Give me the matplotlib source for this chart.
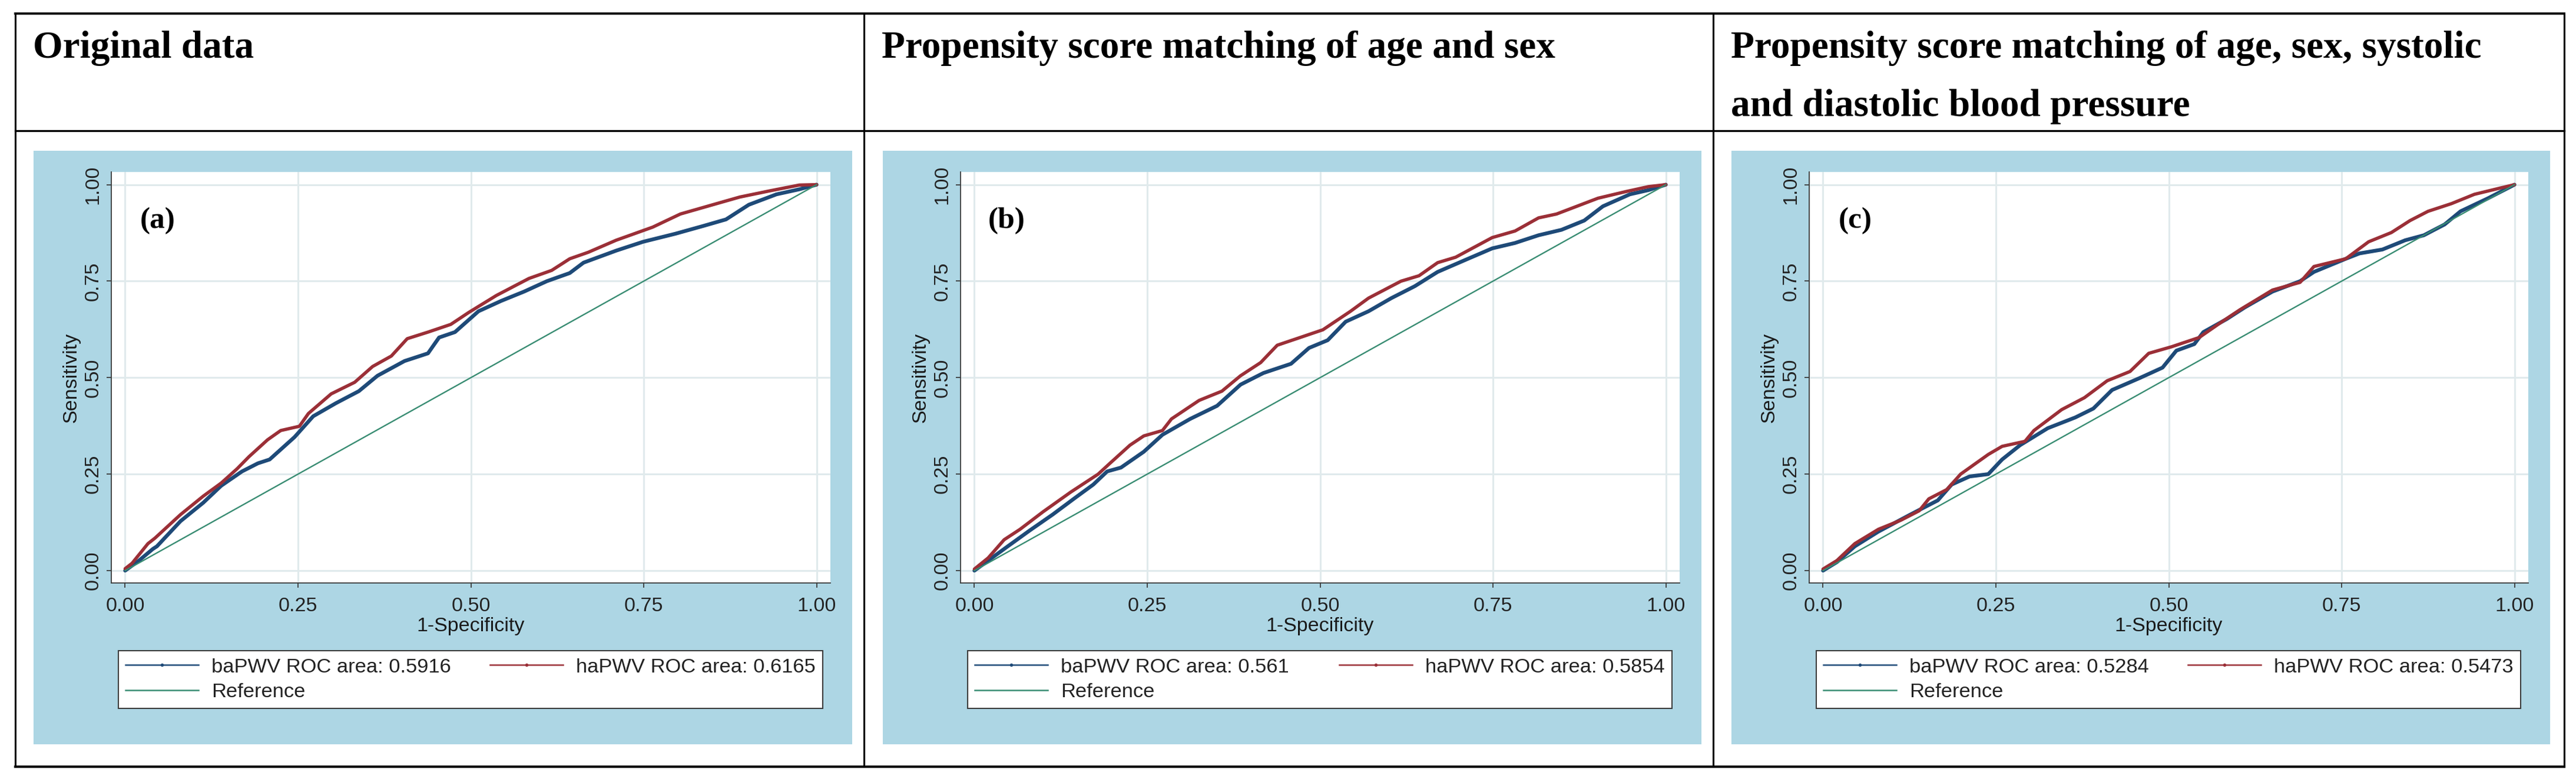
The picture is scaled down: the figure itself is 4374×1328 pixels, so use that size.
import numpy as np
import matplotlib.pyplot as plt
from matplotlib.lines import Line2D
from matplotlib.patches import Rectangle

W, H = 4374, 1328
DPI = 100

titles = ["Original data",
          "Propensity score matching of age and sex",
          "Propensity score matching of age, sex, systolic\nand diastolic blood pressure"]
tags = ["(a)", "(b)", "(c)"]
ba_auc = ["0.5916", "0.561", "0.5284"]
ha_auc = ["0.6165", "0.5854", "0.5473"]
ticks = [0.0, 0.25, 0.5, 0.75, 1.0]
tick_labels = ["0.00", "0.25", "0.50", "0.75", "1.00"]

# (a) original data
ba_fpr_a = [0, 0.02, 0.04, 0.046, 0.08, 0.113, 0.139, 0.169, 0.192, 0.209, 0.245, 0.272, 0.305, 0.338,
            0.365, 0.404, 0.438, 0.454, 0.477, 0.511, 0.544, 0.577, 0.61, 0.643, 0.663, 0.71, 0.749,
            0.796, 0.836, 0.869, 0.902, 0.942, 0.975, 1]
ba_tpr_a = [0, 0.026, 0.056, 0.063, 0.128, 0.176, 0.22, 0.257, 0.278, 0.288, 0.346, 0.40, 0.434, 0.465,
            0.505, 0.543, 0.563, 0.604, 0.618, 0.672, 0.699, 0.723, 0.75, 0.771, 0.798, 0.829, 0.852,
            0.873, 0.893, 0.91, 0.948, 0.975, 0.988, 1]
ha_fpr_a = [0, 0.01, 0.033, 0.043, 0.08, 0.113, 0.139, 0.162, 0.179, 0.206, 0.225, 0.252, 0.265, 0.298,
            0.332, 0.358, 0.385, 0.408, 0.438, 0.471, 0.497, 0.537, 0.584, 0.617, 0.643, 0.67, 0.71,
            0.763, 0.803, 0.842, 0.889, 0.935, 0.975, 1]
ha_tpr_a = [0.005, 0.019, 0.07, 0.084, 0.145, 0.193, 0.227, 0.264, 0.295, 0.339, 0.363, 0.374, 0.407, 0.458,
            0.488, 0.529, 0.556, 0.601, 0.618, 0.638, 0.669, 0.713, 0.757, 0.778, 0.808, 0.825, 0.856,
            0.890, 0.924, 0.944, 0.968, 0.985, 0.999, 1]

# (b) matched on age and sex
ba_fpr_b = [0, 0.02, 0.046, 0.08, 0.113, 0.146, 0.172, 0.192, 0.212, 0.245, 0.272, 0.312, 0.351, 0.385,
            0.418, 0.458, 0.484, 0.511, 0.537, 0.57, 0.603, 0.637, 0.67, 0.71, 0.749, 0.782, 0.816,
            0.849, 0.882, 0.909, 0.948, 0.975, 1]
ba_tpr_b = [0, 0.026, 0.06, 0.104, 0.145, 0.189, 0.223, 0.257, 0.267, 0.308, 0.352, 0.393, 0.427, 0.482,
            0.512, 0.536, 0.577, 0.597, 0.645, 0.672, 0.706, 0.737, 0.774, 0.805, 0.835, 0.849, 0.869,
            0.883, 0.907, 0.944, 0.975, 0.986, 1]
ha_fpr_b = [0, 0.02, 0.043, 0.066, 0.099, 0.139, 0.179, 0.196, 0.225, 0.245, 0.272, 0.285, 0.325, 0.358,
            0.385, 0.414, 0.438, 0.471, 0.504, 0.544, 0.57, 0.617, 0.643, 0.67, 0.696, 0.749, 0.782,
            0.816, 0.842, 0.902, 0.942, 0.975, 1]
ha_tpr_b = [0.004, 0.033, 0.08, 0.107, 0.152, 0.203, 0.25, 0.278, 0.325, 0.349, 0.363, 0.393, 0.441, 0.465,
            0.505, 0.539, 0.584, 0.604, 0.624, 0.672, 0.706, 0.75, 0.764, 0.798, 0.812, 0.863, 0.88,
            0.914, 0.924, 0.965, 0.982, 0.995, 1]

# (c) matched on age, sex, SBP and DBP
ba_fpr_c = [0, 0.02, 0.046, 0.08, 0.126, 0.166, 0.186, 0.212, 0.239, 0.259, 0.285, 0.325, 0.365, 0.391,
            0.418, 0.458, 0.491, 0.511, 0.537, 0.55, 0.584, 0.61, 0.65, 0.69, 0.71, 0.756, 0.776,
            0.809, 0.842, 0.869, 0.899, 0.922, 0.962, 1]
ba_tpr_c = [0, 0.022, 0.063, 0.101, 0.145, 0.182, 0.223, 0.244, 0.25, 0.288, 0.325, 0.369, 0.397, 0.42,
            0.468, 0.499, 0.526, 0.57, 0.587, 0.618, 0.652, 0.682, 0.723, 0.75, 0.774, 0.808, 0.822,
            0.832, 0.856, 0.869, 0.897, 0.931, 0.965, 1]
ha_fpr_c = [0, 0.02, 0.046, 0.08, 0.113, 0.139, 0.153, 0.179, 0.199, 0.239, 0.259, 0.292, 0.305, 0.345,
            0.378, 0.411, 0.444, 0.471, 0.504, 0.544, 0.577, 0.603, 0.65, 0.69, 0.71, 0.756, 0.789,
            0.822, 0.849, 0.875, 0.909, 0.942, 0.981, 1]
ha_tpr_c = [0.004, 0.026, 0.07, 0.107, 0.131, 0.155, 0.186, 0.21, 0.25, 0.301, 0.322, 0.335, 0.363, 0.417,
            0.448, 0.492, 0.516, 0.563, 0.58, 0.604, 0.645, 0.676, 0.727, 0.747, 0.788, 0.808, 0.852,
            0.876, 0.907, 0.931, 0.951, 0.975, 0.992, 1]

ba_fpr = [ba_fpr_a, ba_fpr_b, ba_fpr_c]
ba_tpr = [ba_tpr_a, ba_tpr_b, ba_tpr_c]
ha_fpr = [ha_fpr_a, ha_fpr_b, ha_fpr_c]
ha_tpr = [ha_tpr_a, ha_tpr_b, ha_tpr_c]

navy = '#1e4a78'
maroon = '#9b2f37'
green = '#388c72'
bg_blue = '#add6e4'
grid_c = '#e0eaec'
sans = 'Liberation Sans'
serif = 'Liberation Serif'


def fx(px):
    return px / W


def fy(py):
    return 1 - py / H


fig = plt.figure(figsize=(W / DPI, H / DPI), dpi=DPI)
fig.patch.set_facecolor('white')

# table grid
col_x = [26, 1467, 2909, 4354]
for y, lw in [(23, 2.8), (222, 2.4), (1302, 3.0)]:
    fig.add_artist(Line2D([fx(col_x[0]), fx(col_x[-1])], [fy(y), fy(y)], color='black', lw=lw))
for x in col_x:
    fig.add_artist(Line2D([fx(x), fx(x)], [fy(23), fy(1302)], color='black', lw=2.2))

box_left = [57, 1499, 2940]
for i in range(3):
    # header text
    for k, line in enumerate(titles[i].split("\n")):
        fig.text(fx(col_x[i] + 30), fy(98 + 99 * k), line, fontsize=47, fontweight='bold',
                 family=serif, ha='left', va='baseline')

    bl = box_left[i]
    fig.add_artist(Rectangle((fx(bl), fy(1264)), 1390 / W, (1264 - 256) / H,
                             facecolor=bg_blue, edgecolor='none', zorder=0))

    ax = fig.add_axes([fx(bl + 132), fy(990), 1221 / W, 698 / H])
    ax.set_facecolor('white')
    ax.set_xlim(-0.02, 1.02)
    ax.set_ylim(-0.032, 1.033)
    ax.set_xticks(ticks)
    ax.set_xticklabels(tick_labels)
    ax.set_yticks(ticks)
    ax.set_yticklabels(tick_labels, rotation=90, va='center')
    ax.grid(True, color=grid_c, lw=2.2)
    ax.set_axisbelow(True)
    for s in ['top', 'right']:
        ax.spines[s].set_visible(False)
    for s in ['left', 'bottom']:
        ax.spines[s].set_color('#3a3a3a')
        ax.spines[s].set_linewidth(1.3)
    ax.tick_params(axis='both', direction='out', length=6, width=1.3, color='#3a3a3a',
                   labelsize=24.5, labelcolor='#222222')
    ax.tick_params(axis='x', pad=11)
    ax.tick_params(axis='y', pad=5)
    for lab in ax.get_xticklabels() + ax.get_yticklabels():
        lab.set_family(sans)

    ax.plot(ba_fpr[i], ba_tpr[i], color=navy, lw=4.6, solid_joinstyle='round',
            solid_capstyle='round', zorder=3)
    ax.plot(ha_fpr[i], ha_tpr[i], color=maroon, lw=4.0, solid_joinstyle='round',
            solid_capstyle='round', zorder=4)
    ax.plot([0, 1], [0, 1], color=green, lw=1.7, zorder=5)

    ax.text(0.047, 0.907, tags[i], fontsize=37, fontweight='bold', family=serif,
            ha='center', va='center')

    ax.set_xlabel("1-Specificity", fontsize=24.5, family=sans, color='#1a1a1a')
    ax.xaxis.set_label_coords(0.5, -0.083)
    ax.set_ylabel("Sensitivity", fontsize=24.5, family=sans, color='#1a1a1a')
    ax.yaxis.set_label_coords(-0.0434, 0.5)

    handles = [Line2D([], [], color=navy, lw=1.8, marker='o', markersize=3),
               Line2D([], [], color=green, lw=1.8),
               Line2D([], [], color=maroon, lw=1.8, marker='o', markersize=3)]
    labels = [f"baPWV ROC area: {ba_auc[i]}", "Reference", f"haPWV ROC area: {ha_auc[i]}"]
    leg = fig.legend(handles, labels, loc='upper left',
                     bbox_to_anchor=(fx(bl + 144), fy(1105), 1196 / W, 0),
                     mode='expand', ncol=2, borderaxespad=0, fancybox=False,
                     prop={'family': sans, 'size': 24.8}, handlelength=3.6,
                     handletextpad=0.64, borderpad=0.36, labelspacing=0.32, numpoints=1)
    leg.get_frame().set_edgecolor('#3c3c3c')
    leg.get_frame().set_linewidth(1.5)
    leg.get_frame().set_facecolor('white')
    leg.get_frame().set_alpha(1)
    for t in leg.get_texts():
        t.set_color('#222222')

plt.savefig("out.png", dpi=DPI)
